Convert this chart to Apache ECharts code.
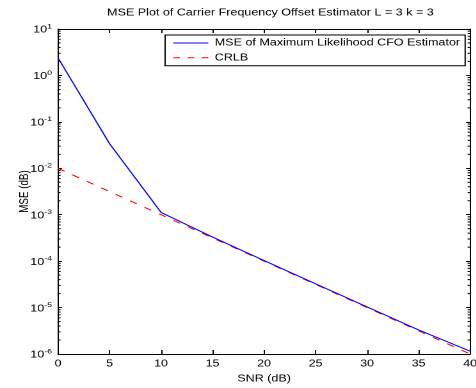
<!DOCTYPE html>
<html>
<head>
<meta charset="utf-8">
<script src="https://cdn.jsdelivr.net/npm/echarts@6/dist/echarts.min.js"></script>
<style>
html,body{margin:0;padding:0;background:#fff;overflow:hidden;}
#wrap{width:476px;height:388px;overflow:hidden;}
#c{width:371.875px;height:388px;transform:scaleX(1.28);transform-origin:0 0;}
</style>
</head>
<body>
<div id="wrap"><div id="c"></div></div>
<script>
var snr = [0, 5, 10, 15, 20, 25, 30, 35, 40];
var mseML = [2.4, 0.034, 1.12e-3, 3.3e-4, 1.03e-4, 3.25e-5, 1.03e-5, 3.3e-6, 1.15e-6];
var crlb = [1e-2, 3.16e-3, 1e-3, 3.16e-4, 1e-4, 3.16e-5, 1e-5, 3.16e-6, 1e-6];
var yDecades = [-6, -5, -4, -3, -2, -1, 0, 1];
var minorMult = [2, 3, 4, 5, 6, 7, 8, 9];
var seriesNames = ['MSE of Maximum Likelihood CFO Estimator', 'CRLB'];

var FONT = '"Liberation Sans", Arial, Helvetica, sans-serif';
var FS = 9.8;
var minorVals = [];
for (var d = 0; d < yDecades.length - 1; d++) {
  for (var m = 0; m < minorMult.length; m++) {
    minorVals.push([20, minorMult[m] * Math.pow(10, yDecades[d])]);
  }
}

function pairs(xs, ys) { return xs.map(function (x, i) { return [x, ys[i]]; }); }

var chart = echarts.init(document.getElementById('c'), null, {renderer: 'canvas', devicePixelRatio: 2});
var axisLineStyle = {color: '#000', width: 1};
chart.setOption({
  animation: false,
  backgroundColor: '#fff',
  title: {
    text: 'MSE Plot of Carrier Frequency Offset Estimator L = 3 k = 3',
    left: 206.25, top: 3, textAlign: 'center',
    textStyle: {fontFamily: FONT, fontSize: FS, fontWeight: 'normal', color: '#000'}
  },
  grid: {left: 45.3, right: 4.7, top: 29, bottom: 34, containLabel: false, outerBoundsMode: 'none'},
  legend: {
    show: true,
    right: 8.6, top: 35,
    orient: 'vertical',
    itemWidth: 27.3, itemHeight: 12, itemGap: 4.7,
    padding: [3, 4, 3, 6],
    borderColor: '#000', borderWidth: 1, backgroundColor: '#fff', borderRadius: 0,
    itemStyle: {opacity: 0},
    lineStyle: {width: 1},
    textStyle: {fontFamily: FONT, fontSize: FS, color: '#000'},
    data: [
      {name: seriesNames[0]},
      {name: seriesNames[1], lineStyle: {type: [5.2, 5.85], width: 1}}
    ]
  },
  xAxis: [{
    type: 'value', min: 0, max: 40, interval: 5,
    name: 'SNR (dB)', nameLocation: 'middle', nameGap: 20, nameMoveOverlap: false,
    nameTextStyle: {fontFamily: FONT, fontSize: FS, color: '#000'},
    axisLine: {show: true, onZero: false, lineStyle: axisLineStyle},
    axisTick: {show: true, inside: true, length: 4, lineStyle: {color: '#000'}},
    axisLabel: {fontFamily: FONT, fontSize: FS, color: '#000', margin: 5},
    splitLine: {show: false}
  }, {
    type: 'value', min: 0, max: 40, interval: 5, position: 'top',
    axisLine: {show: true, onZero: false, lineStyle: axisLineStyle},
    axisTick: {show: true, inside: true, length: 4, lineStyle: {color: '#000'}},
    axisLabel: {show: false},
    splitLine: {show: false}
  }],
  yAxis: [{
    type: 'log', logBase: 10, min: 1e-6, max: 10,
    name: 'MSE (dB)', nameLocation: 'middle', nameGap: 21, nameRotate: 90, nameMoveOverlap: false,
    nameTextStyle: {fontFamily: FONT, fontSize: FS, color: '#000'},
    axisLine: {show: true, onZero: false, lineStyle: axisLineStyle},
    axisTick: {show: true, inside: true, length: 3.1, lineStyle: {color: '#000'}},
    axisLabel: {
      margin: 4.7,
      formatter: function (v) {
        var e = Math.round(Math.log10(v));
        return '{b|10}{s|' + e + '}';
      },
      rich: {
        b: {fontFamily: FONT, fontSize: FS, lineHeight: 12, color: '#000', padding: [2, 0, 0, 0]},
        s: {fontFamily: FONT, fontSize: 6.8, lineHeight: 8, color: '#000', verticalAlign: 'top'}
      }
    },
    splitLine: {show: false}
  }, {
    type: 'log', logBase: 10, min: 1e-6, max: 10, position: 'right',
    axisLine: {show: true, onZero: false, lineStyle: axisLineStyle},
    axisTick: {show: true, inside: true, length: 3.1, lineStyle: {color: '#000'}},
    axisLabel: {show: false},
    splitLine: {show: false}
  }],
  series: [{
    name: seriesNames[0],
    type: 'line', data: pairs(snr, mseML),
    symbol: 'none', showSymbol: false, color: '#0000ff',
    lineStyle: {color: '#0000ff', width: 1}, z: 3
  }, {
    name: seriesNames[1],
    type: 'line', data: pairs(snr, crlb),
    symbol: 'none', showSymbol: false, color: '#ff0000',
    lineStyle: {color: '#ff0000', width: 1, type: [6, 7]}, z: 2
  }, {
    type: 'custom', silent: true, clip: false, data: minorVals,
    renderItem: function (params, api) {
      var v = api.value(1);
      var y = api.coord([20, v])[1];
      var cs = params.coordSys;
      var xl = cs.x, xr = cs.x + cs.width;
      return {
        type: 'group',
        children: [
          {type: 'line', shape: {x1: xl, y1: y, x2: xl + 2, y2: y}, style: {stroke: '#000', lineWidth: 1}},
          {type: 'line', shape: {x1: xr - 2, y1: y, x2: xr, y2: y}, style: {stroke: '#000', lineWidth: 1}}
        ]
      };
    }
  }]
});
</script>
</body>
</html>
